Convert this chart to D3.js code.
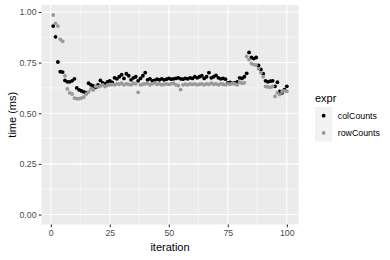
<!DOCTYPE html>
<html>
<head>
<meta charset="utf-8">
<script src="https://cdn.jsdelivr.net/npm/d3@7"></script>
<style>
  html, body { margin: 0; padding: 0; background: #fff; }
  svg { display: block; font-family: "Liberation Sans", Arial, sans-serif; }
</style>
</head>
<body>
<svg id="chart" width="390" height="260"></svg>
<script>
const seriesNames = ["colCounts", "rowCounts"];
const seriesColors = ["#000000", "#999999"];
const xTicks = [0, 25, 50, 75, 100];
const yTicks = [0, 0.25, 0.5, 0.75, 1.0];
const yTickLabels = ["0.00", "0.25", "0.50", "0.75", "1.00"];

const colCounts = [
  0.930, 0.877, 0.753, 0.705, 0.703, 0.662, 0.655, 0.655, 0.660, 0.670,
  0.625, 0.615, 0.610, 0.605, 0.600, 0.648, 0.640, 0.635, 0.628, 0.640,
  0.662, 0.650, 0.645, 0.655, 0.660, 0.652, 0.675, 0.670, 0.680, 0.690,
  0.672, 0.695, 0.685, 0.665, 0.675, 0.680, 0.660, 0.672, 0.685, 0.700,
  0.665, 0.670, 0.660, 0.662, 0.668, 0.665, 0.670, 0.665, 0.668, 0.672,
  0.668, 0.670, 0.672, 0.675, 0.670, 0.668, 0.672, 0.670, 0.675, 0.672,
  0.680, 0.675, 0.680, 0.685, 0.672, 0.680, 0.700, 0.675, 0.680, 0.687,
  0.675, 0.670, 0.672, 0.668, 0.650, 0.652, 0.648, 0.650, 0.655, 0.675,
  0.672, 0.680, 0.697, 0.800, 0.775, 0.770, 0.775, 0.736, 0.716, 0.695,
  0.660, 0.655, 0.658, 0.660, 0.633, 0.653, 0.608, 0.600, 0.617, 0.633
];
const rowCounts = [
  0.985, 0.944, 0.930, 0.865, 0.855, 0.685, 0.620, 0.600, 0.595, 0.575,
  0.572, 0.572, 0.575, 0.580, 0.595, 0.605, 0.620, 0.615, 0.633, 0.630,
  0.635, 0.640, 0.632, 0.638, 0.640, 0.642, 0.640, 0.645, 0.643, 0.648,
  0.640, 0.645, 0.642, 0.640, 0.648, 0.645, 0.603, 0.640, 0.643, 0.645,
  0.648, 0.640, 0.645, 0.650, 0.643, 0.645, 0.640, 0.643, 0.645, 0.642,
  0.645, 0.648, 0.640, 0.637, 0.617, 0.640, 0.643, 0.640, 0.645, 0.642,
  0.645, 0.640, 0.643, 0.645, 0.640, 0.645, 0.642, 0.648, 0.643, 0.645,
  0.640, 0.645, 0.643, 0.640, 0.645, 0.643, 0.648, 0.645, 0.640, 0.652,
  0.648, 0.650, 0.780, 0.765, 0.745, 0.740, 0.738, 0.720, 0.700, 0.680,
  0.632, 0.630, 0.628, 0.632, 0.583, 0.600, 0.592, 0.605, 0.610, 0.608
];
const seriesValues = [colCounts, rowCounts];

const svg = d3.select("#chart");
const panel = { left: 41.5, right: 298.5, top: 5, bottom: 224.5 };

const xMin = 1, xMax = colCounts.length;
const xPad = (xMax - xMin) * 0.05;
const yMin = 0, yMax = d3.max(seriesValues.flat());
const yPad = (yMax - yMin) * 0.05;

const x = d3.scaleLinear().domain([xMin - xPad, xMax + xPad]).range([panel.left, panel.right]);
const y = d3.scaleLinear().domain([yMin - yPad, yMax + yPad]).range([panel.bottom, panel.top]);

svg.append("rect")
  .attr("x", panel.left).attr("y", panel.top)
  .attr("width", panel.right - panel.left).attr("height", panel.bottom - panel.top)
  .attr("fill", "#EBEBEB");

const grid = svg.append("g");
const xMinor = [12.5, 37.5, 62.5, 87.5];
const yMinor = [0.125, 0.375, 0.625, 0.875];
grid.selectAll(".xminor").data(xMinor).enter().append("line")
  .attr("x1", d => x(d)).attr("x2", d => x(d))
  .attr("y1", panel.top).attr("y2", panel.bottom)
  .attr("stroke", "#fff").attr("stroke-width", 0.53);
grid.selectAll(".yminor").data(yMinor).enter().append("line")
  .attr("y1", d => y(d)).attr("y2", d => y(d))
  .attr("x1", panel.left).attr("x2", panel.right)
  .attr("stroke", "#fff").attr("stroke-width", 0.53);
grid.selectAll(".xmajor").data(xTicks).enter().append("line")
  .attr("x1", d => x(d)).attr("x2", d => x(d))
  .attr("y1", panel.top).attr("y2", panel.bottom)
  .attr("stroke", "#fff").attr("stroke-width", 1.07);
grid.selectAll(".ymajor").data(yTicks).enter().append("line")
  .attr("y1", d => y(d)).attr("y2", d => y(d))
  .attr("x1", panel.left).attr("x2", panel.right)
  .attr("stroke", "#fff").attr("stroke-width", 1.07);

const xAxis = d3.axisBottom(x).tickValues(xTicks).tickSize(2.75).tickPadding(2.2).tickFormat(d3.format("d"));
const yAxis = d3.axisLeft(y).tickValues(yTicks).tickSize(2.75).tickPadding(2.2)
  .tickFormat((d, i) => yTickLabels[i]);

const gx = svg.append("g").attr("transform", `translate(0,${panel.bottom})`).call(xAxis);
const gy = svg.append("g").attr("transform", `translate(${panel.left},0)`).call(yAxis);
[gx, gy].forEach(g => {
  g.select(".domain").remove();
  g.selectAll(".tick line").attr("stroke", "#333333").attr("stroke-width", 1.07);
  g.selectAll(".tick text").attr("fill", "#4D4D4D").style("font-size", "8.8px")
    .style("font-family", "Liberation Sans, Arial, sans-serif");
});

seriesValues.forEach((vals, si) => {
  svg.append("g").selectAll("circle").data(vals).enter().append("circle")
    .attr("cx", (d, i) => x(i + 1))
    .attr("cy", d => y(d))
    .attr("r", 1.9)
    .attr("fill", seriesColors[si]);
});

svg.append("text")
  .attr("x", (panel.left + panel.right) / 2).attr("y", 251)
  .attr("text-anchor", "middle").style("font-size", "11px").attr("fill", "#000")
  .text("iteration");
svg.append("text")
  .attr("transform", `translate(15.5,${(panel.top + panel.bottom) / 2}) rotate(-90)`)
  .attr("text-anchor", "middle").style("font-size", "11px").attr("fill", "#000")
  .text("time (ms)");

const lg = svg.append("g").attr("transform", "translate(315,0)");
lg.append("text").attr("x", 0).attr("y", 102).style("font-size", "11px").attr("fill", "#000").text("expr");
seriesNames.forEach((name, i) => {
  const top = 107 + i * 17.3;
  lg.append("rect").attr("x", 0).attr("y", top).attr("width", 17.3).attr("height", 17.3).attr("fill", "#F2F2F2");
  lg.append("circle").attr("cx", 8.65).attr("cy", top + 8.65).attr("r", 1.9).attr("fill", seriesColors[i]);
  lg.append("text").attr("x", 22.8).attr("y", top + 8.65).attr("dy", "0.35em")
    .style("font-size", "8.8px").attr("fill", "#000").text(name);
});
</script>
</body>
</html>
